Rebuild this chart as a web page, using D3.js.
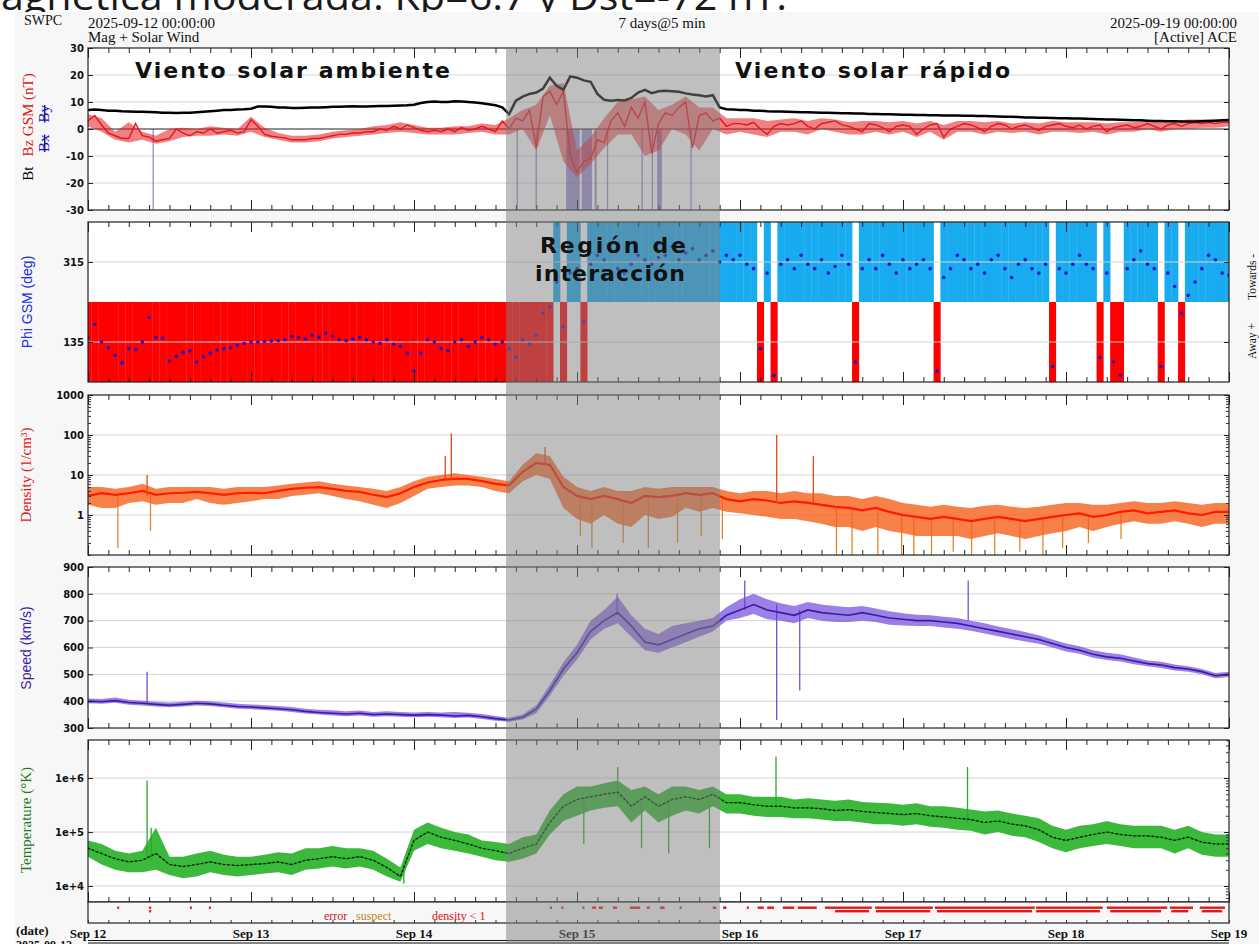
<!DOCTYPE html>
<html>
<head>
<meta charset="utf-8">
<script src="https://cdn.jsdelivr.net/npm/d3@7"></script>
<style>
  html, body { margin: 0; padding: 0; background: #fff; }
  svg { display: block; }
</style>
</head>
<body>
<svg id="chart" width="1259" height="944"></svg>
<script>
// ---- data (2025-09-12 .. 2025-09-19) ----
// hourly values, index = hours since 2025-09-12 00:00 UTC
const bt = [
  7, 7.2, 7, 6.8, 6.8, 6.6, 6.5, 6.4, 6.4, 6.3, 6.2, 6, 6, 5.9, 6, 6, 6.2, 6.4, 6.6, 6.8, 7, 7, 7.2, 7.3,
  7.5, 8.3, 8.3, 8.2, 8, 8, 7.8, 7.8, 7.9, 8, 8, 8.1, 8.2, 8.2, 8.3, 8.4, 8.3, 8.3, 8.4, 8.5, 8.5, 8.6, 8.7, 8.8,
  9, 9.6, 10, 10.2, 10, 10, 10.3, 10.2, 10, 9.8, 9.5, 9.2, 8.8, 8, 5.5, 10.5, 12, 13, 13.5, 15, 19, 16, 14.5, 19.5,
  19, 18, 17.5, 13, 10.8, 10.5, 10.7, 10.6, 11.5, 13.5, 14.5, 13.3, 14, 14.2, 14, 13.8, 13.2, 12.8, 12.5, 12, 12.5, 8, 7.3, 7.2,
  7, 7, 6.8, 6.8, 6.6, 6.5, 6.5, 6.4, 6.3, 6.2, 6.2, 6.1, 6, 6, 5.9, 5.8, 5.8, 5.7, 5.7, 5.6, 5.6, 5.5, 5.5, 5.4,
  5.3, 5.3, 5.2, 5.2, 5.1, 5.1, 5, 5, 5, 4.9, 4.9, 4.8, 4.8, 4.7, 4.6, 4.5, 4.5, 4.4, 4.3, 4.3, 4.2, 4.2, 4.1, 4,
  4, 3.9, 3.9, 3.8, 3.7, 3.6, 3.5, 3.5, 3.4, 3.3, 3.2, 3.2, 3.1, 3, 3, 2.9, 2.9, 2.8, 2.8, 2.8, 2.9, 3, 3.1, 3.2, 3.3
];
const bz = [
  3, 5, 1.5, -1.5, -2.5, -3.5, -3.5, 2, -2.5, -3, -4.5, -4, -3.5, 0, -1.5, -2.5, -1, -1.5, 0, -1.5, -1, -0.5, -1.5, -1,
  3.5, 1, -2, -2.7, -3, -3.3, -4, -4, -4, -3.5, -3.5, -3, -2.5, -2, -2, -1.5, -1.5, -1, -1, 0, -0.5, 1, 0, 1.5,
  0.5, -0.5, -1, -0.5, -1, 0, -1, 0.5, -0.5, 0, 1, 0, -1, 3, 0, 4, 3, 7, -7, 12, 14, 9, 14, -10,
  -16, -12, -11, -4, -5, 3, 6, 1, 8, 4, 10, -9, 2, 6, 5, 8, 10, -7, 5, 6, 3, 4, 1, 2,
  2, 1.5, 2.5, 0, -2, 1, 2, 1.5, 2, 3, 1, 0, 2, 2.5, 3, 1.5, 1, 0, -1, 2, 1.5, 0.5, -1, 1,
  1.5, 1, -2, 0, 1.5, 2, -3, 0, 1, 2, 1.5, 0.5, -1, 1, 2, 1.5, 0, 1, 1.5, 0.5, -0.5, 1, 1.5, 2,
  1, 0.5, 1.5, 0, 1, 1.5, -1, 0.5, 1, 1.5, 0.5, 1, 2, 1, 0, 1.5, 2, 1, 2, 2.5, 2, 2.5, 2, 2.5, 2.5
];
// two-hourly Bz spread (min, max)
const bzLo = [
  1, -1, -4, -5, -4, -5.5, -4.5, -3, -2.5, -2.5, -2, -2.5,
  -1, -3, -4, -5, -5, -4.5, -3.5, -3, -2.5, -2, -1.5, -1,
  -1.5, -2, -2, -2, -1.5, -1, -2, -2, 0, -8, 5, -12,
  -18, -13, -7, -2, -2, -10, -8, 0, -2, -8, 0, -2,
  -1, -2, -3, -1, -1, -2, 0, -1, -2, -2, -1, -2,
  -1, -3, -1, -4, -1, -1, -2, -1, -1.5, -1, -2, -1,
  -1, -1.5, -1, -2, -1, -1, 0, -1, 0, 0, 0.5, 0.5,
  1
];
const bzHi = [
  5.5, 4, -1, 2.5, -1, -2.5, 0, 0.5, 0, 1, 0.5, 0,
  4.5, 0.5, -1.5, -2.5, -2.5, -2, -1, -0.5, 0, 1, 1.5, 2.5,
  1.5, 0.5, 0.5, 1, 1, 2, 1.5, 4, 7, 9, 16, 17,
  -8, -3, 4, 10, 11, 12, 7, 9, 12, 8, 8, 4,
  4, 4, 3, 3.5, 4, 3, 4, 3.5, 2.5, 3, 3, 2.5,
  3, 2, 3, 1.5, 3, 3, 2.5, 3, 2, 2.5, 2, 3,
  2.5, 2.5, 2.5, 2, 2.5, 2.5, 3, 2.5, 3, 3.5, 3.5, 3.5,
  3.5
];
const phi = [
  145, 175, 135, 122, 105, 88, 120, 118, 135, 190, 145, 144, 92, 103, 112, 115, 90, 102, 110, 117, 120, 122, 128, 132,
  135, 135, 136, 137, 138, 140, 148, 145, 142, 150, 146, 155, 148, 140, 138, 142, 145, 140, 135, 132, 140, 130, 125, 110,
  70, 110, 140, 135, 120, 115, 135, 140, 125, 135, 145, 140, 130, 135, 120, 100, 140, 130, 150, 200, 215, 270, 170, 290,
  300, 180, 310, 330, 320, 340, 300, 290, 310, 330, 320, 310, 325, 330, 350, 320, 335, 345, 320, 330, 340, 315, 330, 320,
  330, 310, 300, 120, 290, 60, 310, 320, 300, 330, 310, 300, 320, 290, 305, 330, 310, 90, 300, 320, 300, 330, 310, 290,
  320, 300, 310, 320, 300, 70, 280, 300, 330, 320, 300, 310, 290, 320, 330, 300, 280, 310, 320, 300, 290, 310, 80, 300,
  290, 310, 330, 310, 300, 100, 290, 90, 60, 300, 320, 340, 310, 300, 80, 290, 260, 200, 240, 270, 300, 330, 320, 290, 285
];
// [start hour, end hour] of the purple southward shading in the field panel
const bzShade = [[9.5, 9.7], [63.1, 63.3], [65.9, 66.1], [70.4, 72.4], [72.7, 74.2], [74.6, 74.9],
  [76.4, 76.6], [81.5, 81.7], [83.0, 83.2], [83.8, 84.5], [88.7, 88.9]];

// two-hourly values, index * 2 = hours since start
const densMid = [
  3, 3.5, 3.2, 3.5, 4, 3.2, 3.5, 3.6, 3.8, 3.5, 3.2, 3.5,
  3.6, 3.5, 4, 4.5, 4.8, 5, 4.5, 4, 3.8, 3.2, 2.8, 3.5,
  5, 6.5, 7.5, 8, 8, 7, 6, 5.5, 12, 20, 18, 5,
  3, 2.5, 3, 2.5, 2, 3, 2.8, 3, 3.5, 3.2, 3.5, 2.5,
  2.2, 2.5, 2.3, 2, 2.2, 2, 1.8, 1.6, 1.5, 1.3, 1.5, 1.2,
  1, 0.9, 0.8, 0.9, 0.8, 0.7, 0.8, 0.9, 0.8, 0.7, 0.8, 0.9,
  1, 1.1, 0.9, 1, 1.2, 1.3, 1.1, 1.2, 1.3, 1.1, 1, 1.2,
  1.2
];
const densHi = [
  5, 5, 4.5, 5, 6, 4.5, 5, 5, 5, 5, 4.5, 5,
  5, 5, 5.5, 6, 6.5, 7, 6, 5.5, 5, 4.5, 4, 5,
  7, 9, 10, 11, 10, 9, 8, 7, 18, 35, 30, 9,
  5, 4, 5, 4, 4, 5, 4.5, 5, 5, 5, 5, 4,
  3.5, 4, 4, 3.5, 4, 3.5, 3.5, 3, 3, 2.5, 3, 2.5,
  2, 1.8, 1.6, 1.8, 1.6, 1.5, 1.7, 1.8, 1.6, 1.5, 1.6, 1.8,
  2, 2, 1.8, 1.8, 2, 2.2, 2, 2, 2.2, 2, 1.8, 2,
  2
];
const densLo = [
  1.8, 1.5, 1.5, 2, 2.2, 1.8, 2, 2, 2.5, 2, 1.8, 2,
  2.2, 2.5, 2.5, 3, 3.2, 3.5, 3, 2.5, 2.2, 1.8, 1.5, 2,
  3, 4.5, 5, 5.5, 5.5, 5, 4, 3.5, 7, 10, 8, 1.5,
  0.8, 0.6, 1, 0.6, 0.5, 1, 0.8, 0.9, 1.5, 1.2, 1.5, 1.2,
  1.1, 1, 0.9, 0.8, 0.8, 0.7, 0.6, 0.5, 0.5, 0.4, 0.5, 0.4,
  0.35, 0.3, 0.3, 0.3, 0.3, 0.25, 0.3, 0.35, 0.3, 0.25, 0.3, 0.35,
  0.4, 0.5, 0.4, 0.5, 0.6, 0.7, 0.6, 0.6, 0.7, 0.6, 0.5, 0.6,
  0.6
];
// [hour, from, to] single-sample excursions
const densSpikes = [[8.7, 3, 10], [52.6, 8, 30], [53.5, 8, 110], [67.3, 20, 50], [101.4, 2, 100], [106.8, 2, 30]];
const densDrops = [[4.4, 0.15, 3], [9.2, 0.4, 3], [72.5, 0.3, 3], [74.2, 0.15, 2.5], [78.8, 0.2, 2.5], [82.5, 0.15, 3],
  [86.8, 0.2, 3], [90.3, 0.3, 3], [93.4, 0.25, 2.5], [110.2, 0.1, 1.5], [112.5, 0.1, 1.5], [116.3, 0.1, 1.3],
  [119.8, 0.1, 1], [121.6, 0.1, 1], [124.2, 0.1, 0.8], [127.4, 0.12, 0.9], [130.1, 0.1, 0.7], [133.5, 0.1, 0.8],
  [137.2, 0.12, 0.8], [140.6, 0.1, 0.8], [143.5, 0.15, 0.9], [147.3, 0.2, 1], [152.1, 0.25, 1.2]];

const speedMid = [
  400, 398, 402, 395, 392, 388, 385, 388, 392, 390, 385, 380,
  378, 375, 372, 368, 362, 358, 355, 352, 355, 350, 352, 350,
  348, 350, 348, 345, 347, 342, 335, 330, 340, 370, 440, 520,
  580, 660, 700, 730, 680, 620, 610, 630, 650, 670, 680, 720,
  740, 760, 740, 730, 720, 740, 730, 725, 720, 730, 720, 710,
  705, 700, 700, 695, 690, 680, 670, 660, 650, 640, 630, 615,
  600, 590, 575, 565, 560, 550, 540, 535, 525, 520, 510, 495,
  500
];
const speedHi = [
  410, 408, 414, 405, 402, 398, 395, 398, 402, 400, 395, 390,
  388, 385, 382, 378, 372, 368, 366, 362, 365, 360, 362, 360,
  358, 360, 358, 360, 357, 352, 345, 338, 350, 385, 460, 545,
  610, 700, 740, 790, 720, 670, 650, 680, 690, 700, 710, 750,
  780, 800, 780, 765, 755, 770, 760, 755, 750, 755, 745, 735,
  728, 722, 720, 715, 710, 700, 690, 678, 668, 658, 646, 630,
  615, 605, 590, 580, 575, 563, 552, 547, 537, 530, 520, 505,
  510
];
const speedLo = [
  392, 390, 394, 387, 384, 380, 377, 380, 384, 382, 377, 372,
  370, 367, 364, 360, 354, 350, 347, 344, 347, 342, 344, 342,
  340, 342, 340, 337, 339, 334, 327, 323, 332, 355, 420, 495,
  555, 630, 670, 690, 640, 590, 580, 600, 620, 640, 660, 700,
  710, 725, 705, 700, 690, 710, 700, 695, 695, 700, 695, 685,
  682, 680, 680, 675, 670, 662, 652, 642, 632, 622, 614, 600,
  585, 577, 562, 553, 548, 538, 530, 524, 514, 510, 500, 485,
  490
];
const speedSpikes = [[8.7, 390, 510], [77.9, 720, 800], [96.7, 740, 850], [101.4, 330, 760], [104.8, 440, 740], [129.6, 700, 850]];

const tempMid = [
  5e4, 4e4, 3.2e4, 2.8e4, 3e4, 4e4, 2.5e4, 2.3e4, 2.5e4, 2.8e4, 2.5e4, 2.4e4,
  2.5e4, 2.6e4, 2.8e4, 2.5e4, 3e4, 3.2e4, 3.5e4, 3.2e4, 3.5e4, 3e4, 2.2e4, 1.5e4,
  7e4, 1e5, 8e4, 7e4, 6e4, 5e4, 4.5e4, 4e4, 5e4, 6e4, 1.5e5, 3e5,
  4e5, 4.5e5, 5e5, 5.5e5, 3e5, 4.5e5, 3e5, 4e5, 4.5e5, 4e5, 5e5, 3.5e5,
  3.5e5, 3.2e5, 3e5, 3e5, 2.8e5, 2.8e5, 2.7e5, 2.5e5, 2.6e5, 2.4e5, 2.3e5, 2.2e5,
  2.1e5, 2.2e5, 2e5, 1.9e5, 1.8e5, 1.7e5, 1.5e5, 1.6e5, 1.4e5, 1.3e5, 1.1e5, 8e4,
  7e4, 8e4, 9e4, 1e5, 9e4, 8.5e4, 8.5e4, 8e4, 7e4, 8e4, 6.5e4, 6e4,
  6e4
];
const tempHi = [
  7e4, 6e4, 4.5e4, 4e4, 4.5e4, 1.2e5, 3.5e4, 3.5e4, 4e4, 4.5e4, 3.8e4, 3.5e4,
  3.5e4, 3.8e4, 4.2e4, 4e4, 5e4, 5e4, 5.5e4, 5e4, 5e4, 4.5e4, 3.2e4, 2.2e4,
  1.1e5, 1.5e5, 1.2e5, 1e5, 9e4, 7e4, 6.5e4, 6e4, 8e4, 9e4, 2.5e5, 5e5,
  7e5, 7e5, 8e5, 9e5, 6e5, 7e5, 5e5, 7e5, 7e5, 6e5, 7e5, 5e5,
  5e5, 4.5e5, 4.5e5, 4.5e5, 4e5, 4.2e5, 4e5, 3.8e5, 4e5, 3.6e5, 3.5e5, 3.4e5,
  3.2e5, 3.4e5, 3e5, 3e5, 2.8e5, 2.6e5, 2.4e5, 2.5e5, 2.2e5, 2e5, 1.8e5, 1.3e5,
  1.1e5, 1.3e5, 1.4e5, 1.6e5, 1.4e5, 1.3e5, 1.3e5, 1.3e5, 1.1e5, 1.3e5, 1e5, 9e4,
  9e4
];
const tempLo = [
  3.5e4, 2.5e4, 2e4, 1.8e4, 1.8e4, 2e4, 1.6e4, 1.4e4, 1.5e4, 1.8e4, 1.6e4, 1.5e4,
  1.6e4, 1.7e4, 1.8e4, 1.6e4, 2e4, 2.1e4, 2.3e4, 2.1e4, 2.3e4, 2e4, 1.5e4, 1.2e4,
  4.5e4, 6e4, 5e4, 4.5e4, 4e4, 3.5e4, 3e4, 2.8e4, 3.2e4, 4e4, 9e4, 1.6e5,
  2e5, 2.5e5, 2.8e5, 3e5, 1.5e5, 2.5e5, 1.5e5, 2e5, 2.5e5, 2.2e5, 3e5, 2.2e5,
  2.2e5, 2e5, 1.9e5, 1.9e5, 1.8e5, 1.8e5, 1.7e5, 1.6e5, 1.6e5, 1.5e5, 1.4e5, 1.4e5,
  1.3e5, 1.4e5, 1.25e5, 1.2e5, 1.1e5, 1.05e5, 9e4, 1e5, 8.5e4, 8e4, 6.5e4, 5e4,
  4.2e4, 5e4, 5.5e4, 6e4, 5.5e4, 5e4, 5e4, 5e4, 4e4, 5e4, 3.8e4, 3.5e4,
  3.5e4
];
const tempSpikes = [[8.7, 3e4, 9e5], [9.3, 3e4, 1.2e5], [46.5, 1.1e4, 2e4], [73, 6e4, 4e5], [78, 4e5, 1.6e6],
  [81.5, 5e4, 4e5], [85.5, 4e4, 4e5], [91.5, 5e4, 5e5], [101.3, 2.5e5, 2.5e6], [129.5, 1.5e5, 1.6e6]];

// quality flags: [start hour, end hour, row]  row 0 = error, row 1 = density < 1
const flags = [
  [4.3, 4.6, 0], [9, 9.3, 0], [9, 9.3, 1], [15, 15.3, 0], [17.8, 18.1, 0], [68, 68.3, 0], [69.7, 70, 0],
  [72.8, 73.1, 0], [74.2, 74.8, 0], [75.2, 75.8, 0], [77.3, 77.9, 0], [79.8, 81.3, 0], [82.3, 82.7, 0],
  [84.2, 84.9, 0], [87.1, 87.4, 0], [92, 92.5, 0], [93.5, 94, 0], [97, 97.3, 0], [98.6, 99.5, 0],
  [100, 101, 0], [102.3, 104, 0], [104.5, 107.3, 0], [108.5, 115.4, 0], [115.9, 124.4, 0], [124.7, 139.4, 0],
  [139.6, 149.4, 0], [150, 158.9, 0], [159.3, 162.7, 0], [163.7, 167.4, 0],
  [110, 115, 1], [116, 124, 1], [125, 139, 1], [139.6, 149, 1], [150.5, 158, 1], [159.5, 162, 1], [164, 167, 1]
];

const magTicks = [30, 20, 10, 0, -10, -20, -30];
const phiTicks = [315, 135];
const densTicks = [1000, 100, 10, 1];
const speedTicks = [900, 800, 700, 600, 500, 400, 300];
const tempTicks = [1e6, 1e5, 1e4];
const tempTickLabels = ['1e+6', '1e+5', '1e+4'];
const regionHours = [61.55, 93.05];   // shaded interaction region

// ---- layout ----
const HOUR = 3600e3, T0 = Date.UTC(2025, 8, 12);
const at = h => new Date(T0 + h * HOUR);
const X0 = 88, X1 = 1229;
const x = d3.scaleUtc().domain([at(0), at(168)]).range([X0, X1]);

const svg = d3.select('#chart');

// big caption above the plot image, only its lower edge shows
const cap = svg.append('svg').attr('x', 0).attr('y', 0).attr('width', 1259).attr('height', 12);
cap.append('text')
  .attr('x', 1).attr('y', 10)
  .attr('font-family', 'Open Sans').attr('font-size', 38).attr('fill', '#1a1a1a')
  .attr('textLength', 786).attr('lengthAdjust', 'spacingAndGlyphs')
  .text('agnética moderada: Kp=6.7 y Dst=-72 nT.');

svg.append('rect').attr('x', 15).attr('y', 12).attr('width', 1244).attr('height', 932).attr('fill', '#f7f7f7');

const serif = 'Liberation Serif';
const tickFont = 'DejaVu Sans';

// header
const hdr = (t, xx, yy, anchor) => svg.append('text').attr('x', xx).attr('y', yy)
  .attr('font-family', serif).attr('font-size', 15).attr('fill', '#111')
  .attr('text-anchor', anchor || 'start').text(t);
hdr('SWPC', 24, 25).attr('font-size', 14);
hdr('2025-09-12 00:00:00', 88, 27.5);
hdr('Mag + Solar Wind', 88, 42);
hdr('7 days@5 min', 662, 27.5, 'middle');
hdr('2025-09-19 00:00:00', 1237, 27.5, 'end');
hdr('[Active] ACE', 1237, 42, 'end');

const panels = {
  mag:   { top: 48,  bot: 210, y: d3.scaleLinear().domain([-30, 30]).range([210, 48]) },
  phi:   { top: 222, bot: 382, y: d3.scaleLinear().domain([45, 405]).range([382, 222]) },
  dens:  { top: 395, bot: 555, y: d3.scaleLog().domain([0.1, 1000]).range([555, 395]) },
  speed: { top: 567, bot: 728, y: d3.scaleLinear().domain([300, 900]).range([728, 567]) },
  temp:  { top: 740, bot: 902, y: d3.scaleLog().domain([Math.pow(10, 3.704), Math.pow(10, 6.704)]).range([902, 740]) }
};

const defs = svg.append('defs');
Object.entries(panels).forEach(([k, p]) => {
  defs.append('clipPath').attr('id', 'clip-' + k)
    .append('rect').attr('x', X0).attr('y', p.top).attr('width', X1 - X0).attr('height', p.bot - p.top);
  svg.append('rect').attr('x', X0).attr('y', p.top).attr('width', X1 - X0).attr('height', p.bot - p.top).attr('fill', '#fff');
  p.g = svg.append('g').attr('clip-path', `url(#clip-${k})`);
});

function grid(p, vals, special) {
  vals.forEach(v => {
    p.g.append('line').attr('x1', X0).attr('x2', X1).attr('y1', p.y(v)).attr('y2', p.y(v))
      .attr('stroke', v === special ? '#222' : '#d4d4d4').attr('stroke-width', 1);
  });
}
function spikes(p, data, color, w) {
  p.g.append('g').selectAll('line').data(data).join('line')
    .attr('x1', d => x(at(d[0]))).attr('x2', d => x(at(d[0]))).attr('y1', d => p.y(d[1])).attr('y2', d => p.y(d[2]))
    .attr('stroke', color).attr('stroke-width', w || 1.3);
}

// ---- field panel ----
{
  const p = panels.mag;
  grid(p, [20, 10, -10, -20]);
  p.g.selectAll('rect.shade').data(bzShade).join('rect')
    .attr('x', d => x(at(d[0]))).attr('width', d => Math.max(1.2, x(at(d[1])) - x(at(d[0]))))
    .attr('y', p.y(0)).attr('height', p.y(-30) - p.y(0))
    .attr('fill', '#6247b0').attr('opacity', 0.6);
  grid(p, [0], 0);
  const band = d3.area().x((d, i) => x(at(i * 2))).y0((d, i) => p.y(bzLo[i])).y1(d => p.y(d));
  p.g.append('path').attr('d', band(bzHi)).attr('fill', '#e3171c').attr('opacity', 0.55);
  const line = d3.line().x((d, i) => x(at(i))).y(d => p.y(d));
  p.g.append('path').attr('d', line(bz)).attr('fill', 'none').attr('stroke', '#e3171c').attr('stroke-width', 1.4);
  p.g.append('path').attr('d', line(bt)).attr('fill', 'none').attr('stroke', '#000').attr('stroke-width', 2.5);
}

// ---- phi panel ----
{
  const p = panels.phi;
  p.g.selectAll('rect.sec').data(phi).join('rect')
    .attr('x', (d, i) => x(at(i - 0.5))).attr('width', x(at(1)) - x(at(0)) + 0.3)
    .attr('y', d => d < 225 ? p.y(225) : p.top)
    .attr('height', d => d < 225 ? p.bot - p.y(225) : p.y(225) - p.top)
    .attr('fill', d => d < 225 ? '#ff0000' : '#19abf0');
  grid(p, phiTicks);
  p.g.selectAll('circle').data(phi).join('circle')
    .attr('cx', (d, i) => x(at(i))).attr('cy', d => p.y(d)).attr('r', 1.8).attr('fill', '#1818c8');
}

// ---- density panel ----
{
  const p = panels.dens;
  grid(p, [100, 10, 1]);
  const area = d3.area().x((d, i) => x(at(i * 2))).y0((d, i) => p.y(densLo[i])).y1(d => p.y(d));
  spikes(p, densDrops, '#e0882a');
  p.g.append('path').attr('d', area(densHi)).attr('fill', '#f5621c').attr('opacity', 0.8);
  p.g.append('path').attr('d', d3.line().x((d, i) => x(at(i * 2))).y(d => p.y(d))(densMid))
    .attr('fill', 'none').attr('stroke', '#ff1a00').attr('stroke-width', 2.2);
  spikes(p, densSpikes, '#e84a10');
}

// ---- speed panel ----
{
  const p = panels.speed;
  grid(p, [800, 700, 600, 500, 400]);
  const area = d3.area().x((d, i) => x(at(i * 2))).y0((d, i) => p.y(speedLo[i])).y1(d => p.y(d));
  p.g.append('path').attr('d', area(speedHi)).attr('fill', '#7c55de').attr('opacity', 0.75);
  spikes(p, speedSpikes, '#6a40d8', 1.2);
  p.g.append('path').attr('d', d3.line().x((d, i) => x(at(i * 2))).y(d => p.y(d))(speedMid))
    .attr('fill', 'none').attr('stroke', '#3a1aa6').attr('stroke-width', 1.6);
}

// ---- temperature panel ----
{
  const p = panels.temp;
  grid(p, tempTicks);
  const area = d3.area().x((d, i) => x(at(i * 2))).y0((d, i) => p.y(tempLo[i])).y1(d => p.y(d));
  p.g.append('path').attr('d', area(tempHi)).attr('fill', '#27b127').attr('opacity', 0.9);
  spikes(p, tempSpikes, '#2aa82a');
  const line = d3.line().x((d, i) => x(at(i * 2))).y(d => p.y(d));
  p.g.append('path').attr('d', line(tempMid)).attr('fill', 'none').attr('stroke', '#0e7a0e').attr('stroke-width', 1.2);
  p.g.append('path').attr('d', line(tempMid)).attr('fill', 'none').attr('stroke', '#000')
    .attr('stroke-width', 1.4).attr('stroke-dasharray', '1.5,3');
}

// ---- frames, time ticks and y axes ----
function timeTicks(yy, down) {
  const mk = (every, len) => {
    const ax = (down ? d3.axisBottom(x) : d3.axisTop(x)).ticks(every).tickSize(len).tickFormat('');
    const g = svg.append('g').attr('transform', `translate(0,${yy})`).call(ax);
    g.select('.domain').remove();
    g.selectAll('line').attr('stroke', '#222');
  };
  mk(d3.utcHour.every(3), 5);
  mk(d3.utcDay.every(1), 10);
}

function yAxis(p, vals, labels, minor) {
  const left = d3.axisLeft(p.y).tickValues(vals).tickSize(-5).tickPadding(4)
    .tickFormat((d, i) => labels ? labels[i] : d);
  const g = svg.append('g').attr('transform', `translate(${X0},0)`).call(left);
  g.select('.domain').remove();
  g.attr('font-family', tickFont).attr('font-size', 10).attr('font-weight', 'bold');
  g.selectAll('text').attr('fill', '#111');
  g.selectAll('line').attr('stroke', '#222');
  const right = d3.axisRight(p.y).tickValues(vals).tickSize(-5).tickFormat('');
  const r = svg.append('g').attr('transform', `translate(${X1},0)`).call(right);
  r.select('.domain').remove();
  r.selectAll('line').attr('stroke', '#222');
  if (minor) {
    minor.forEach(side => {
      const ax = side === 'left' ? d3.axisLeft(p.y) : d3.axisRight(p.y);
      const m = svg.append('g').attr('transform', `translate(${side === 'left' ? X0 : X1},0)`)
        .call(ax.tickValues(p.y.ticks().filter(v => !vals.includes(v))).tickSize(-3).tickFormat(''));
      m.select('.domain').remove();
      m.selectAll('line').attr('stroke', '#333');
    });
  }
}

Object.values(panels).forEach(p => {
  svg.append('rect').attr('x', X0).attr('y', p.top).attr('width', X1 - X0).attr('height', p.bot - p.top)
    .attr('fill', 'none').attr('stroke', '#222').attr('stroke-width', 1.2);
  timeTicks(p.top, true);
  timeTicks(p.bot, false);
});
yAxis(panels.mag, magTicks);
yAxis(panels.phi, phiTicks);
yAxis(panels.dens, densTicks, null, ['left', 'right']);
yAxis(panels.speed, speedTicks);
yAxis(panels.temp, tempTicks, tempTickLabels, ['right']);

// ---- flag strip ----
{
  const top = 902, bot = 923;
  svg.append('rect').attr('x', X0).attr('y', top).attr('width', X1 - X0).attr('height', bot - top)
    .attr('fill', '#f7f7f7').attr('stroke', '#222').attr('stroke-width', 1.2);
  svg.selectAll('rect.flag').data(flags).join('rect')
    .attr('x', d => x(at(d[0]))).attr('width', d => Math.max(1.2, x(at(d[1])) - x(at(d[0]))))
    .attr('y', d => d[2] === 0 ? 906.5 : 910).attr('height', 2.4).attr('fill', '#e01a1a');
  const ax = d3.axisBottom(x).ticks(d3.utcHour.every(3)).tickSize(-3).tickFormat('');
  const g = svg.append('g').attr('transform', `translate(0,${bot})`).call(ax);
  g.select('.domain').remove();
  g.selectAll('line').attr('stroke', '#333');
  const leg = (t, xx, c) => svg.append('text').attr('x', xx).attr('y', 920).attr('font-family', serif)
    .attr('font-size', 12).attr('fill', c).text(t);
  leg('error', 324, '#c8102e');
  leg('suspect', 356, '#c08a10');
  leg('density < 1', 432, '#e01010');
}

// ---- date labels ----
svg.append('g').selectAll('text').data(x.ticks(d3.utcDay.every(1))).join('text')
  .attr('x', d => x(d)).attr('y', 938).attr('text-anchor', 'middle')
  .attr('font-family', serif).attr('font-weight', 'bold').attr('font-size', 13).attr('fill', '#111')
  .text(d3.utcFormat('%b %d'));
svg.append('text').attr('x', 16).attr('y', 935).attr('font-family', serif).attr('font-weight', 'bold')
  .attr('font-size', 13).attr('fill', '#111').text('(date)');
svg.append('text').attr('x', 16).attr('y', 949).attr('font-family', serif).attr('font-weight', 'bold')
  .attr('font-size', 12).attr('fill', '#111').text('2025-09-12');
svg.append('line').attr('x1', X0).attr('x2', X1).attr('y1', 940.5).attr('y2', 940.5).attr('stroke', '#111').attr('stroke-width', 1.2);
svg.append('line').attr('x1', X0).attr('x2', X1).attr('y1', 943).attr('y2', 943).attr('stroke', '#111').attr('stroke-width', 1);

// ---- axis titles ----
function vtext(xx, yy, size, family) {
  return svg.append('text').attr('transform', `translate(${xx},${yy}) rotate(-90)`)
    .attr('text-anchor', 'middle').attr('font-family', family || serif).attr('font-size', size);
}
{
  const t = vtext(33, 127, 15);
  t.append('tspan').attr('fill', '#000').text('Bt');
  t.append('tspan').attr('fill', '#e01515').attr('dx', 10).text('Bz GSM (nT)');
  const b = vtext(49, 128.5, 15).attr('fill', '#1414c4').style('text-decoration', 'line-through');
  b.append('tspan').text('Bx');
  b.append('tspan').attr('dx', 12).text('By');
}
vtext(32, 302, 14, 'Liberation Sans').attr('fill', '#2030e0').text('Phi GSM (deg)');
vtext(31, 475, 15).attr('fill', '#e01515').text('Density (1/cm³)');
vtext(31, 648, 14, 'Liberation Sans').attr('fill', '#3a1ca4').text('Speed (km/s)');
vtext(31, 820, 15).attr('fill', '#1b7d1b').text('Temperature (°K)');
vtext(1256, 277, 11.5).attr('fill', '#111').text('Towards -');
vtext(1256, 341, 11.5).attr('fill', '#111').text('Away +');

// ---- interaction region shading ----
svg.append('rect')
  .attr('x', x(at(regionHours[0]))).attr('width', x(at(regionHours[1])) - x(at(regionHours[0])))
  .attr('y', panels.mag.top).attr('height', 944 - panels.mag.top)
  .attr('fill', '#808080').attr('opacity', 0.5);

// ---- annotations ----
const note = (t, xx, yy, w, anchor) => svg.append('text').attr('x', xx).attr('y', yy)
  .attr('font-family', 'DejaVu Sans').attr('font-weight', 'bold').attr('font-size', 22).attr('fill', '#111')
  .attr('text-anchor', anchor || 'start')
  .attr('textLength', w).attr('lengthAdjust', 'spacing').text(t);
note('Viento  solar  ambiente', 135, 78, 315);
note('Viento  solar  rápido', 735, 78, 275);
note('Región  de', 613, 253, 146, 'middle');
note('interacción', 610, 281, 150, 'middle');
</script>
</body>
</html>
